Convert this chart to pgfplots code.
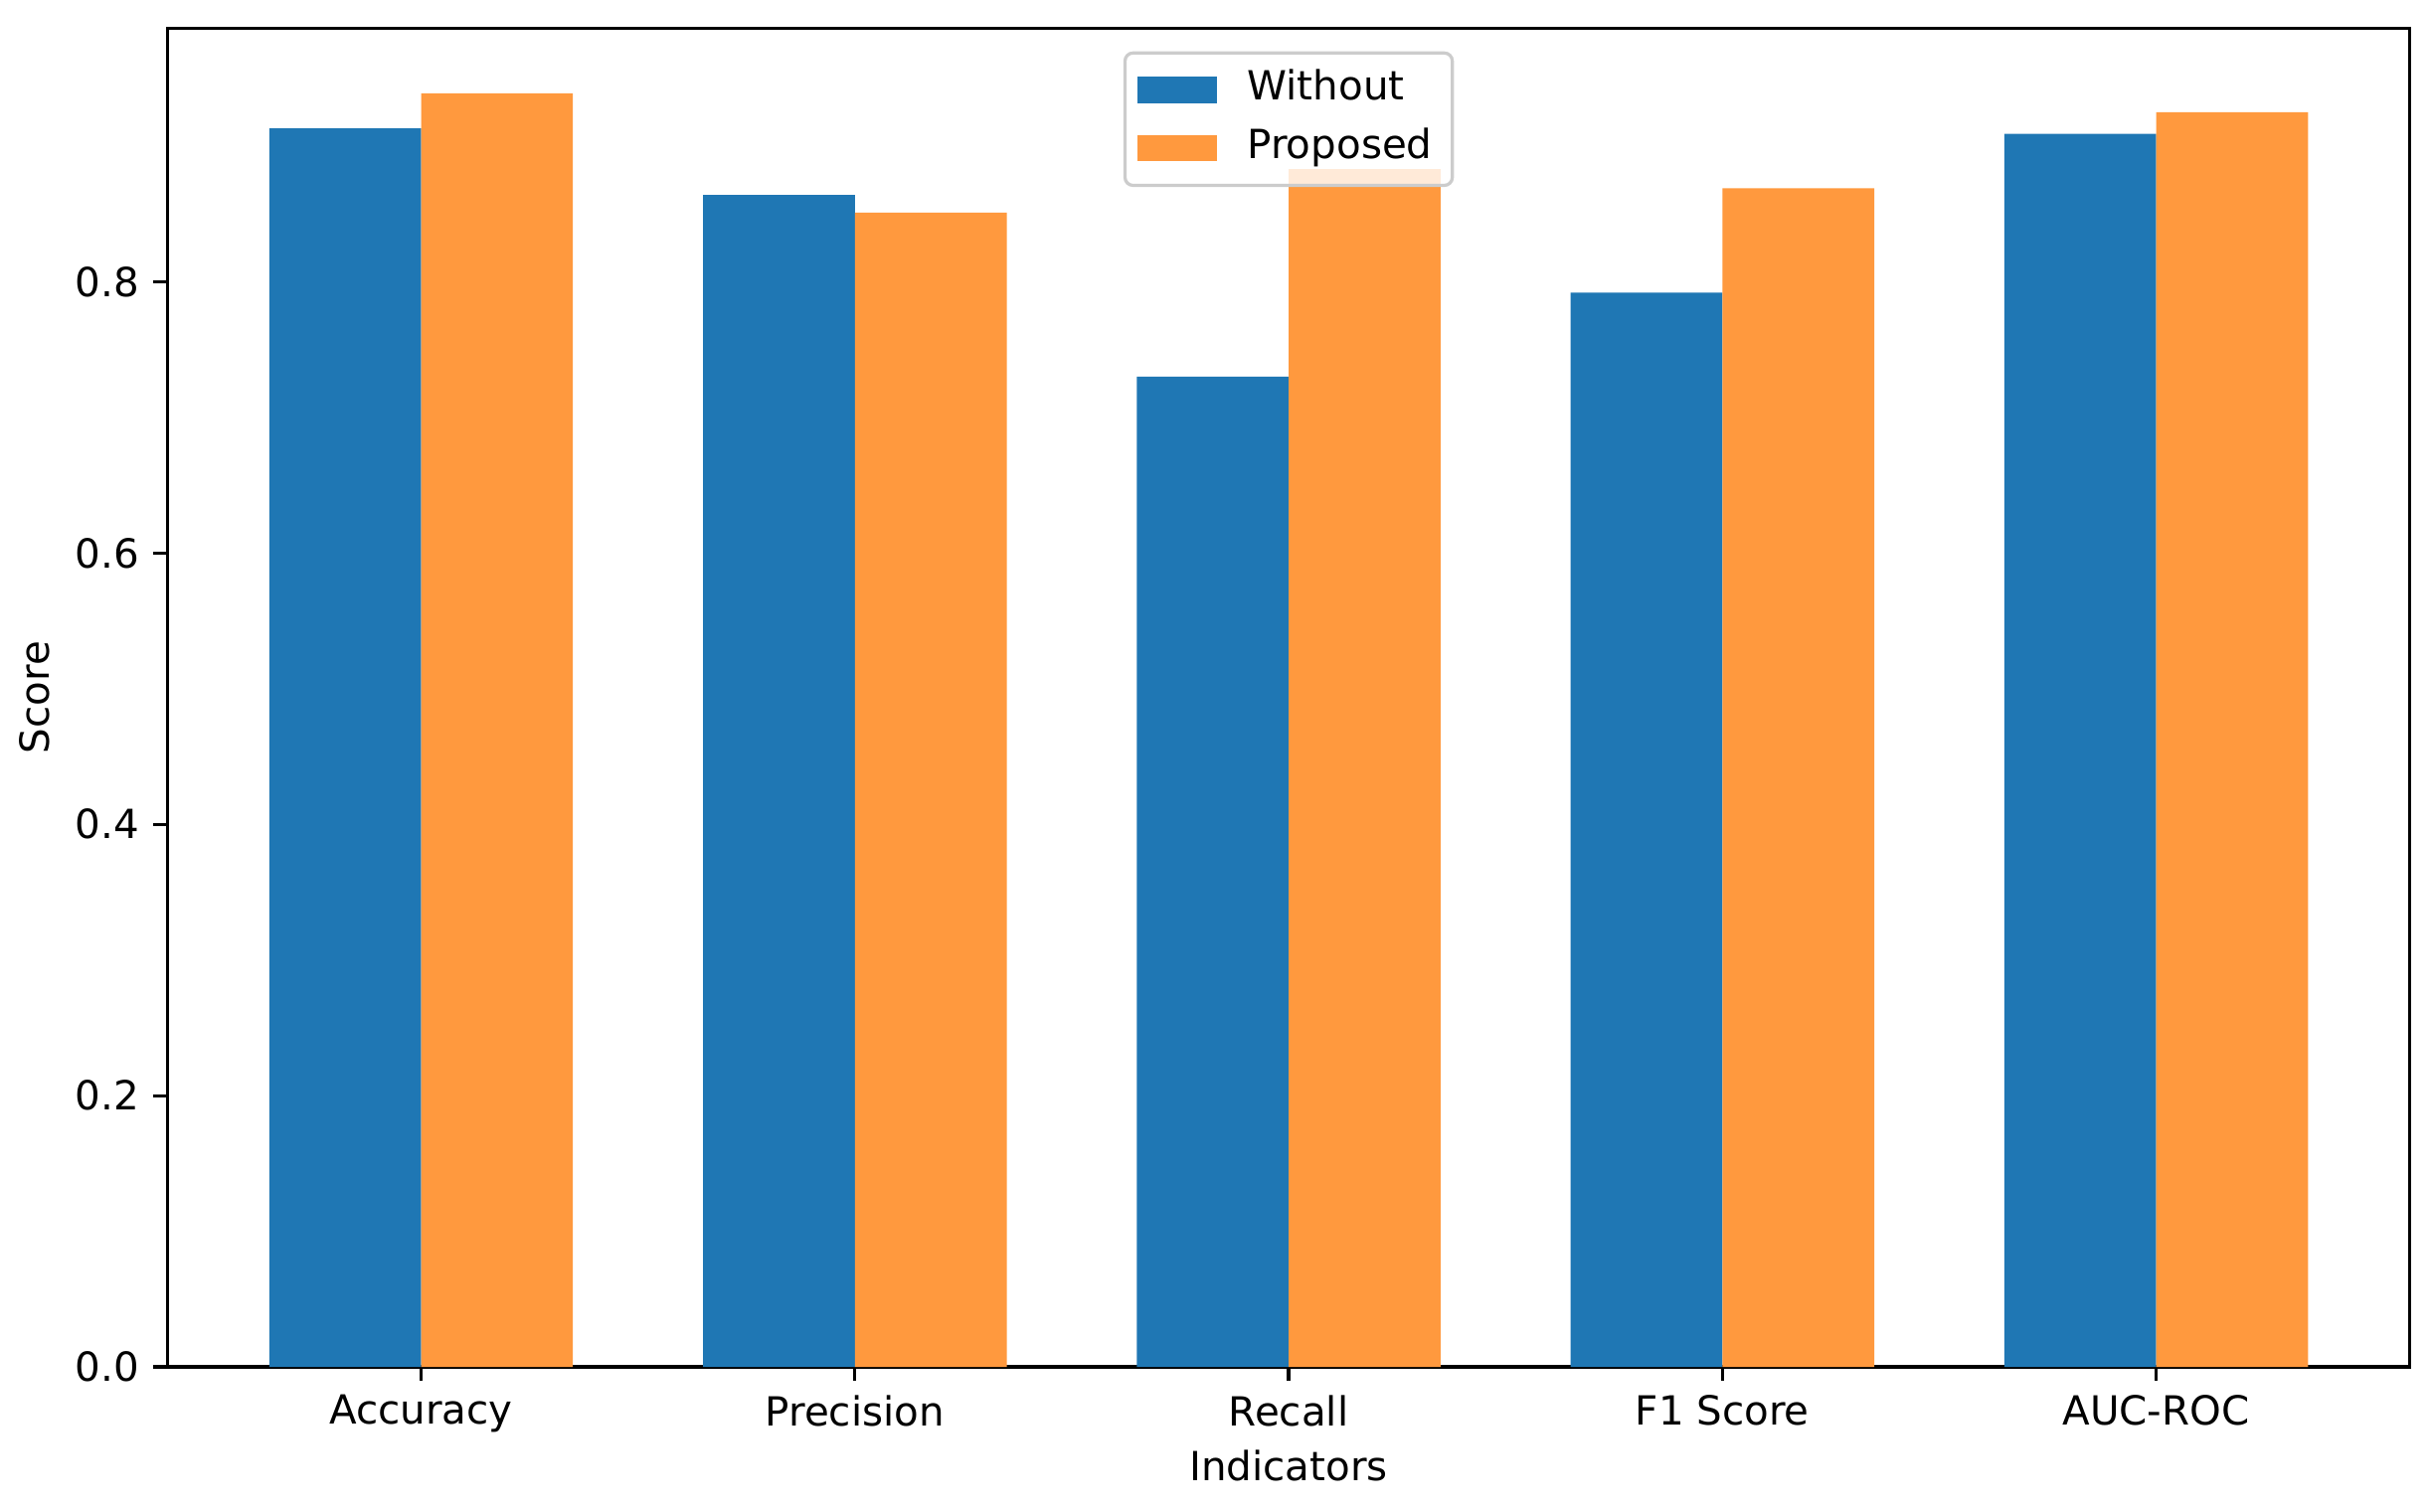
\documentclass[border=0pt]{standalone}
\usepackage{fontspec}
\setmainfont{DejaVu Sans}
\usepackage{pgfplots}
\pgfplotsset{compat=1.18}
\definecolor{mplblue}{HTML}{1F77B4}
\definecolor{mplorange}{HTML}{FF993E}
\definecolor{legedge}{HTML}{CCCCCC}

\begin{document}
\fontsize{10}{12}\selectfont
\begin{tikzpicture}
\begin{axis}[
    scale only axis,
    width=558.7pt,
    height=333.6pt,
    xmin=-0.585, xmax=4.585,
    ymin=0, ymax=0.987,
    xtick={0,1,2,3,4},
    xticklabels={Accuracy,Precision,Recall,F1 Score,AUC-ROC},
    ytick={0,0.2,0.4,0.6,0.8},
    /pgf/number format/assume math mode=true,
    yticklabel style={/pgf/number format/.cd, fixed, fixed zerofill, precision=1},
    tick align=outside,
    xtick pos=lower,
    ytick pos=left,
    major tick length=3.5pt,
    tick style={line width=0.8pt, black},
    axis line style={line width=0.8pt},
    every axis x label/.style={at={(axis description cs:0.5,0)}, yshift=-24.7pt, anchor=center},
    every axis y label/.style={at={(axis description cs:0,0.5)}, xshift=-33.2pt, rotate=90, anchor=center},
    xlabel={Indicators},
    ylabel={Score},
    legend cell align=left,
    legend image code/.code={\fill[#1, fill opacity=1, sharp corners] (0pt,-3.3pt) rectangle (20pt,3.3pt);},
    legend style={
        at={(axis description cs:0.5,1)}, anchor=north, yshift=-5.8pt,
        draw=legedge, line width=0.8pt, fill=white, fill opacity=0.8, text opacity=1,
        rounded corners=2pt, inner xsep=3pt, inner ysep=2.5pt, row sep=1pt,
        nodes={text height=7.3pt, text depth=2.2pt},
        /tikz/every odd column/.append style={column sep=5.5pt},
    },
]
\addplot[ybar, bar width=0.35, bar shift=-0.175, fill=mplblue, draw=none]
    coordinates {(0,0.913) (1,0.864) (2,0.730) (3,0.792) (4,0.909)};
\addlegendentry{Without}
\addplot[ybar, bar width=0.35, bar shift=0.175, fill=mplorange, draw=none]
    coordinates {(0,0.939) (1,0.851) (2,0.883) (3,0.869) (4,0.925)};
\addlegendentry{Proposed}
\end{axis}
\path (current axis.south west) ++(-41.7pt,-36pt) coordinate (bbl);
\path (current axis.north east) ++(5pt,7pt) coordinate (btr);
\path (bbl) rectangle (btr);
\end{tikzpicture}
\end{document}
